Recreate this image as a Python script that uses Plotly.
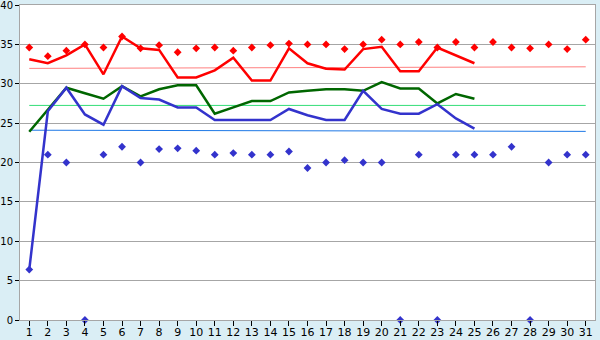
import plotly.graph_objects as go

days = list(range(1, 32))
line_days = list(range(1, 26))

red_line = [33.1, 32.6, 33.6, 35.0, 31.2, 36.0, 34.5, 34.3, 30.8, 30.8,
            31.7, 33.3, 30.4, 30.4, 34.5, 32.6, 31.9, 31.8, 34.4, 34.7,
            31.6, 31.6, 34.6, 33.6, 32.6]
green_line = [23.9, 26.7, 29.5, 28.8, 28.1, 29.7, 28.4, 29.3, 29.8, 29.8,
              26.2, 27.0, 27.8, 27.8, 28.9, 29.1, 29.3, 29.3, 29.1, 30.2,
              29.4, 29.4, 27.5, 28.7, 28.1]
blue_line = [6.4, 26.5, 29.5, 26.1, 24.8, 29.7, 28.2, 28.0, 27.0, 27.0,
             25.4, 25.4, 25.4, 25.4, 26.8, 26.0, 25.4, 25.4, 29.1, 26.8,
             26.2, 26.2, 27.4, 25.6, 24.3]
red_points = [34.6, 33.5, 34.2, 35.0, 34.6, 36.0, 34.5, 34.9, 34.0, 34.5,
              34.6, 34.2, 34.6, 34.9, 35.1, 35.0, 35.0, 34.4, 35.0, 35.6,
              35.0, 35.3, 34.6, 35.3, 34.6, 35.3, 34.6, 34.5, 35.0, 34.4, 35.6]
blue_points = [6.4, 21.0, 20.0, 0, 21.0, 22.0, 20.0, 21.7, 21.8, 21.5,
               21.0, 21.2, 21.0, 21.0, 21.4, 19.3, 20.0, 20.3, 20.0, 20.0,
               0, 21.0, 0, 21.0, 21.0, 21.0, 22.0, 0, 20.0, 21.0, 21.0]
avg_days = [1, 31]
red_avg = [31.95, 32.15]
green_avg = [27.25, 27.25]
blue_avg = [24.1, 23.95]
y_ticks = [0, 5, 10, 15, 20, 25, 30, 35, 40]

fig = go.Figure()
fig.add_trace(go.Scatter(x=avg_days, y=red_avg, mode="lines",
                         line=dict(color="#FF8080", width=1)))
fig.add_trace(go.Scatter(x=avg_days, y=green_avg, mode="lines",
                         line=dict(color="#33DD77", width=1)))
fig.add_trace(go.Scatter(x=avg_days, y=blue_avg, mode="lines",
                         line=dict(color="#1E78E6", width=1)))
fig.add_trace(go.Scatter(x=line_days, y=red_line, mode="lines",
                         line=dict(color="#FF0000", width=2.5)))
fig.add_trace(go.Scatter(x=line_days, y=green_line, mode="lines",
                         line=dict(color="#006600", width=2.5)))
fig.add_trace(go.Scatter(x=line_days, y=blue_line, mode="lines",
                         line=dict(color="#3333CC", width=2.5)))
fig.add_trace(go.Scatter(x=days, y=red_points, mode="markers",
                         marker=dict(symbol="diamond", size=6, color="#FF0000")))
fig.add_trace(go.Scatter(x=days, y=blue_points, mode="markers",
                         marker=dict(symbol="diamond", size=6, color="#3333CC"),
                         cliponaxis=False))
# invisible helper trace so the label axis is drawn
fig.add_trace(go.Scatter(x=[], y=[], xaxis="x2", mode="markers",
                         hoverinfo="skip"))

xfont = dict(family="DejaVu Sans", size=11, color="#000000")
yfont = dict(family="DejaVu Sans", size=10, color="#000000")
fig.update_layout(
    width=600, height=340,
    margin=dict(l=20, r=5, t=5, b=20),
    paper_bgcolor="#DAEEF5",
    plot_bgcolor="#FFFFFF",
    showlegend=False,
    font=xfont,
    xaxis=dict(range=[0.5, 31.5], tickmode="array", tickvals=days,
               showticklabels=False, ticks="outside", ticklen=5,
               tickcolor="#000000", showgrid=False, zeroline=False,
               showline=True, linecolor="#A6A6A6", mirror=True,
               automargin=False),
    xaxis2=dict(range=[0.5, 31.5], overlaying="x", anchor="y", side="bottom",
                tickmode="array", tickvals=days,
                ticktext=[str(d) for d in days], ticks="outside", ticklen=2,
                tickcolor="rgba(0,0,0,0)", showgrid=False, zeroline=False,
                showline=False, tickfont=xfont, automargin=False,
                ticklabeloverflow="allow"),
    yaxis=dict(range=[0, 40], tickmode="array", tickvals=y_ticks,
               ticks="outside", ticklen=4, tickcolor="#000000",
               showgrid=True, gridcolor="#A6A6A6", gridwidth=1,
               zeroline=False, showline=True, linecolor="#A6A6A6",
               mirror=True, tickfont=yfont, automargin=False,
               ticklabeloverflow="allow"),
)
fig.write_html("out.html")
